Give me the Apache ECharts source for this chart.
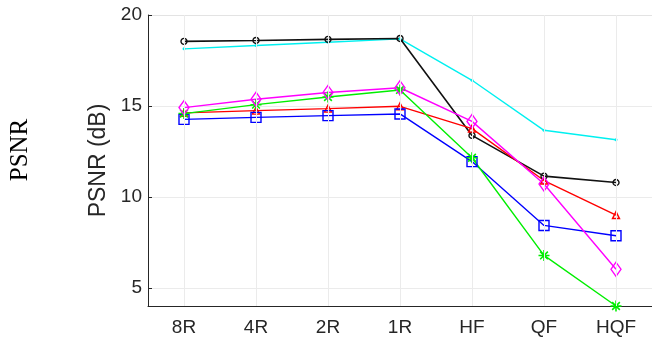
<!DOCTYPE html>
<html>
<head>
<meta charset="utf-8">
<script src="https://cdn.jsdelivr.net/npm/echarts@6/dist/echarts.min.js"></script>
<style>
html,body{margin:0;padding:0;background:#fff;}
#chart{width:652px;height:343px;}
</style>
</head>
<body>
<div id="chart"></div>
<script>
const categories = ['8R', '4R', '2R', '1R', 'HF', 'QF', 'HQF'];
const blackCircle = [18.55, 18.60, 18.66, 18.71, 13.38, 11.14, 10.79];
const cyanDot = [18.14, 18.32, 18.50, 18.69, 16.41, 13.66, 13.14];
const magentaDiamond = [14.91, 15.37, 15.74, 16.00, 14.15, 10.71, 6.02];
const greenStar = [14.58, 15.07, 15.49, 15.88, 12.15, 6.78, 4.0];
const redTriangle = [14.62, 14.74, 14.85, 14.98, 13.75, 10.90, 9.00];
const blueSquare = [14.26, 14.37, 14.47, 14.56, 11.94, 8.43, 7.86];
const yTicks = [5, 10, 15, 20];

const starPath = 'path://M43 0H57V100H43Z M0 43H100V57H0Z M10 20L20 10L90 80L80 90Z M80 10L90 20L20 90L10 80Z';

const chart = echarts.init(document.getElementById('chart'));
const font = '"Liberation Sans", Arial, Helvetica, sans-serif';
const tickColor = '#262626';

function mk(name, data, color, symbol, size, width, filled) {
  return {
    name: name,
    type: 'line',
    data: data,
    symbol: symbol,
    symbolSize: size,
    showSymbol: true,
    animation: false,
    lineStyle: { color: color, width: width },
    itemStyle: { color: filled ? color : 'rgba(0,0,0,0)', borderColor: color, borderWidth: filled ? 0 : 1.4 },
    emphasis: { disabled: true },
    z: 3
  };
}

chart.setOption({
  backgroundColor: '#fff',
  animation: false,
  grid: { left: 148, top: 15, right: 0, bottom: 37, containLabel: false },
  graphic: [{
    type: 'text',
    rotation: Math.PI / 2,
    x: 20, y: 150,
    style: {
      text: 'PSNR',
      font: '25px "Liberation Serif", "Times New Roman", serif',
      fill: '#000',
      textAlign: 'center',
      textVerticalAlign: 'middle'
    }
  }],
  xAxis: [{
    type: 'category',
    data: categories,
    boundaryGap: true,
    axisLine: { show: true, lineStyle: { color: tickColor, width: 1 } },
    axisTick: { show: true, inside: true, alignWithLabel: true, length: 4, lineStyle: { color: tickColor } },
    axisLabel: { color: tickColor, fontSize: 19, fontFamily: font, margin: 12 },
    splitLine: { show: false }
  }, {
    type: 'category',
    data: categories,
    position: 'top',
    boundaryGap: true,
    axisLine: { show: true, lineStyle: { color: '#e3e3e3', width: 1 } },
    axisTick: { show: true, inside: true, alignWithLabel: true, length: 4, lineStyle: { color: tickColor } },
    axisLabel: { show: false },
    splitLine: { show: false }
  }],
  yAxis: {
    type: 'value',
    min: 4,
    max: 20,
    axisLine: { show: true, lineStyle: { color: tickColor, width: 1 } },
    axisTick: { show: true, inside: true, length: 4, lineStyle: { color: tickColor }, customValues: yTicks },
    axisLabel: { color: tickColor, fontSize: 19, fontFamily: font, margin: 6, customValues: yTicks },
    splitLine: { show: true, lineStyle: { color: '#ebebeb', width: 1 } },
    name: 'PSNR (dB)',
    nameLocation: 'middle',
    nameGap: 30,
    nameTextStyle: { color: tickColor, fontSize: 23, fontFamily: font }
  },
  series: [
    {
      type: 'line',
      data: [],
      silent: true,
      z: 1,
      markLine: {
        silent: true,
        symbol: ['none', 'none'],
        label: { show: false },
        animation: false,
        lineStyle: { color: '#ebebeb', width: 1, type: 'solid' },
        data: categories.map(c => ({ xAxis: c }))
      }
    },
    mk('cyan', cyanDot, '#00f0f0', 'circle', 3, 1.4, true),
    mk('black', blackCircle, '#111111', 'circle', 6, 1.6, false),
    mk('red', redTriangle, '#ff0000', 'triangle', 7, 1.4, false),
    mk('blue', blueSquare, '#0000ff', 'rect', 10, 1.4, false),
    mk('green', greenStar, '#00ee00', starPath, 11, 1.4, true),
    mk('magenta', magentaDiamond, '#ff00ff', 'diamond', [10, 14], 1.4, false)
  ]
});
</script>
</body>
</html>
